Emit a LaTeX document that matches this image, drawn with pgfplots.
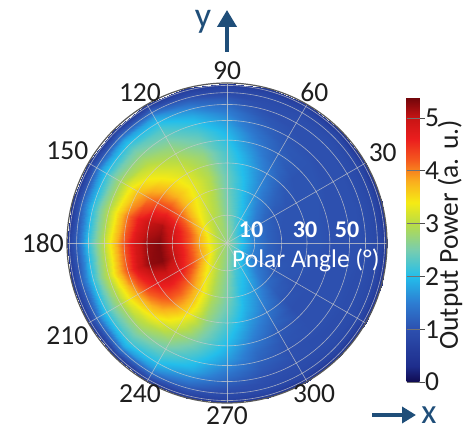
\documentclass[border=0pt]{standalone}
\usepackage{pgfplots}
\pgfplotsset{compat=1.18}
\usepackage{pgfplotstable}
\usepackage{fontspec}
\setmainfont{Carlito}
\usetikzlibrary{arrows.meta}
\definecolor{arrowblue}{RGB}{31,78,121}
\definecolor{txt}{RGB}{30,30,30}
\definecolor{gridc}{RGB}{205,205,205}

% p = azimuth (deg), t = polar angle (deg), v = output power (a.u.)
\pgfplotstableread{
p t v
0 0 2.7
0 5 2.05
0 10 1.5
0 15 1.2
0 20 1.05
0 25 1.05
0 30 1.05
0 35 1.05
0 40 1.0
0 45 1.0
0 50 1.0
0 55 1.0
0 60 0.95
0 65 0.9
0 70 0.85
0 75 0.75
0 80 0.6
0 90 0.45
15 0 2.7
15 5 2.05
15 10 1.5
15 15 1.2
15 20 1.05
15 25 1.05
15 30 1.05
15 35 1.05
15 40 1.0
15 45 1.0
15 50 1.0
15 55 1.0
15 60 0.95
15 65 0.9
15 70 0.85
15 75 0.75
15 80 0.6
15 90 0.45
30 0 2.7
30 5 2.05
30 10 1.55
30 15 1.25
30 20 1.1
30 25 1.05
30 30 1.05
30 35 1.05
30 40 1.05
30 45 1.0
30 50 1.0
30 55 1.0
30 60 0.95
30 65 0.9
30 70 0.85
30 75 0.75
30 80 0.6
30 90 0.45
45 0 2.7
45 5 2.15
45 10 1.75
45 15 1.5
45 20 1.3
45 25 1.2
45 30 1.1
45 35 1.05
45 40 1.05
45 45 1.05
45 50 1.0
45 55 1.0
45 60 1.0
45 65 0.95
45 70 0.9
45 75 0.8
45 80 0.65
45 90 0.45
60 0 2.7
60 5 2.3
60 10 2.0
60 15 1.8
60 20 1.65
60 25 1.55
60 30 1.45
60 35 1.3
60 40 1.2
60 45 1.1
60 50 1.05
60 55 1.0
60 60 1.0
60 65 0.95
60 70 0.9
60 75 0.8
60 80 0.7
60 90 0.5
75 0 2.7
75 5 2.5
75 10 2.3
75 15 2.15
75 20 2.05
75 25 1.95
75 30 1.85
75 35 1.7
75 40 1.55
75 45 1.4
75 50 1.25
75 55 1.1
75 60 1.0
75 65 0.95
75 70 0.9
75 75 0.8
75 80 0.7
75 90 0.5
90 0 2.7
90 5 2.65
90 10 2.55
90 15 2.5
90 20 2.45
90 25 2.4
90 30 2.3
90 35 2.2
90 40 2.05
90 45 1.9
90 50 1.7
90 55 1.5
90 60 1.3
90 65 1.1
90 70 0.9
90 75 0.8
90 80 0.7
90 90 0.5
105 0 2.7
105 5 2.8
105 10 2.85
105 15 2.9
105 20 2.95
105 25 2.95
105 30 2.85
105 35 2.7
105 40 2.5
105 45 2.3
105 50 2.1
105 55 1.85
105 60 1.6
105 65 1.3
105 70 1.05
105 75 0.85
105 80 0.7
105 90 0.5
120 0 2.7
120 5 2.85
120 10 3.0
120 15 3.15
120 20 3.25
120 25 3.3
120 30 3.2
120 35 3.05
120 40 2.85
120 45 2.65
120 50 2.45
120 55 2.25
120 60 2.05
120 65 1.75
120 70 1.4
120 75 1.05
120 80 0.8
120 90 0.55
135 0 2.7
135 5 2.95
135 10 3.2
135 15 3.45
135 20 3.65
135 25 3.7
135 30 3.6
135 35 3.4
135 40 3.2
135 45 2.95
135 50 2.7
135 55 2.45
135 60 2.15
135 65 1.8
135 70 1.4
135 75 1.05
135 80 0.8
135 90 0.55
150 0 2.7
150 5 3.05
150 10 3.5
150 15 3.9
150 20 4.2
150 25 4.35
150 30 4.25
150 35 4.0
150 40 3.7
150 45 3.3
150 50 2.9
150 55 2.5
150 60 2.15
150 65 1.75
150 70 1.35
150 75 1.0
150 80 0.8
150 90 0.55
165 0 2.7
165 5 3.15
165 10 3.75
165 15 4.3
165 20 4.8
165 25 5.1
165 30 5.0
165 35 4.6
165 40 4.1
165 45 3.55
165 50 3.0
165 55 2.55
165 60 2.1
165 65 1.65
165 70 1.25
165 75 0.95
165 80 0.75
165 90 0.5
180 0 2.7
180 5 3.2
180 10 3.8
180 15 4.4
180 20 4.95
180 25 5.3
180 30 5.2
180 35 4.85
180 40 4.25
180 45 3.65
180 50 3.05
180 55 2.6
180 60 2.1
180 65 1.6
180 70 1.2
180 75 0.95
180 80 0.75
180 90 0.5
195 0 2.7
195 5 3.2
195 10 3.85
195 15 4.45
195 20 5.0
195 25 5.3
195 30 5.25
195 35 4.9
195 40 4.3
195 45 3.7
195 50 3.1
195 55 2.6
195 60 2.1
195 65 1.6
195 70 1.2
195 75 0.95
195 80 0.75
195 90 0.5
210 0 2.7
210 5 3.15
210 10 3.75
210 15 4.3
210 20 4.7
210 25 4.85
210 30 4.7
210 35 4.35
210 40 3.85
210 45 3.35
210 50 2.9
210 55 2.5
210 60 2.15
210 65 1.7
210 70 1.3
210 75 1.0
210 80 0.8
210 90 0.55
225 0 2.7
225 5 3.0
225 10 3.45
225 15 3.85
225 20 4.15
225 25 4.25
225 30 4.15
225 35 3.85
225 40 3.45
225 45 3.05
225 50 2.75
225 55 2.45
225 60 2.2
225 65 1.85
225 70 1.45
225 75 1.1
225 80 0.8
225 90 0.55
240 0 2.7
240 5 2.9
240 10 3.15
240 15 3.35
240 20 3.55
240 25 3.6
240 30 3.5
240 35 3.25
240 40 2.95
240 45 2.7
240 50 2.45
240 55 2.2
240 60 2.0
240 65 1.7
240 70 1.4
240 75 1.05
240 80 0.8
240 90 0.55
255 0 2.7
255 5 2.8
255 10 2.85
255 15 2.9
255 20 2.9
255 25 2.85
255 30 2.75
255 35 2.6
255 40 2.45
255 45 2.25
255 50 2.05
255 55 1.85
255 60 1.6
255 65 1.35
255 70 1.1
255 75 0.9
255 80 0.7
255 90 0.5
270 0 2.7
270 5 2.65
270 10 2.6
270 15 2.55
270 20 2.5
270 25 2.4
270 30 2.25
270 35 2.1
270 40 1.95
270 45 1.8
270 50 1.6
270 55 1.4
270 60 1.2
270 65 1.05
270 70 0.9
270 75 0.8
270 80 0.7
270 90 0.5
285 0 2.7
285 5 2.45
285 10 2.25
285 15 2.1
285 20 2.0
285 25 1.9
285 30 1.75
285 35 1.6
285 40 1.45
285 45 1.3
285 50 1.2
285 55 1.1
285 60 1.0
285 65 0.95
285 70 0.9
285 75 0.8
285 80 0.65
285 90 0.45
300 0 2.7
300 5 2.3
300 10 2.0
300 15 1.85
300 20 1.7
300 25 1.55
300 30 1.4
300 35 1.25
300 40 1.1
300 45 1.05
300 50 1.0
300 55 1.0
300 60 0.95
300 65 0.9
300 70 0.85
300 75 0.75
300 80 0.6
300 90 0.45
315 0 2.7
315 5 2.15
315 10 1.75
315 15 1.5
315 20 1.3
315 25 1.15
315 30 1.05
315 35 1.0
315 40 1.0
315 45 1.0
315 50 1.0
315 55 0.95
315 60 0.95
315 65 0.9
315 70 0.85
315 75 0.75
315 80 0.6
315 90 0.45
330 0 2.7
330 5 2.05
330 10 1.55
330 15 1.25
330 20 1.1
330 25 1.05
330 30 1.0
330 35 1.0
330 40 1.0
330 45 1.0
330 50 1.0
330 55 0.95
330 60 0.95
330 65 0.9
330 70 0.85
330 75 0.75
330 80 0.6
330 90 0.45
345 0 2.7
345 5 2.05
345 10 1.5
345 15 1.2
345 20 1.05
345 25 1.05
345 30 1.05
345 35 1.0
345 40 1.0
345 45 1.0
345 50 1.0
345 55 0.95
345 60 0.95
345 65 0.9
345 70 0.85
345 75 0.75
345 80 0.6
345 90 0.45
360 0 2.7
360 5 2.05
360 10 1.5
360 15 1.2
360 20 1.05
360 25 1.05
360 30 1.05
360 35 1.05
360 40 1.0
360 45 1.0
360 50 1.0
360 55 1.0
360 60 0.95
360 65 0.9
360 70 0.85
360 75 0.75
360 80 0.6
360 90 0.45
}\powertable

\newcommand{\lbl}{\fontsize{27.5bp}{31bp}\selectfont}

\begin{document}
\begin{tikzpicture}
\begin{axis}[
  view={0}{90},
  scale only axis, width=320bp, height=320bp,
  xmin=-1, xmax=1, ymin=-1, ymax=1,
  enlargelimits=false,
  axis lines=none,
  colormap={powmap}{
    rgb255(0pt)=(15,10,80);
    rgb255(3pt)=(30,45,140);
    rgb255(10pt)=(45,80,175);
    rgb255(15pt)=(45,125,210);
    rgb255(20pt)=(35,190,235);
    rgb255(25pt)=(120,205,175);
    rgb255(30pt)=(185,220,70);
    rgb255(34pt)=(245,235,20);
    rgb255(38pt)=(250,175,30);
    rgb255(42pt)=(245,90,30);
    rgb255(46pt)=(235,30,30);
    rgb255(50pt)=(200,20,20);
    rgb255(54pt)=(110,5,10)},
  point meta min=0, point meta max=5.4,
  colorbar,
  colorbar style={
    at={(parent axis.east)}, anchor=west, xshift=11bp, yshift=3.5bp,
    scale only axis, width=13bp, height=285bp,
    ytick={0,1,2,3,4,5}, yticklabels={0,1,2,3,4,5},
    ytick pos=right, tick align=outside, major tick length=5bp,
    every tick/.style={black!70, line width=0.9bp},
    ymajorgrids, major grid style={black!55, line width=0.9bp},
    axis on top,
    axis line style={draw=none},
    /pgf/number format/assume math mode=true,
    yticklabel style={font=\lbl, text=txt, inner sep=0.5bp},
  },
]
\addplot3[surf, shader=interp, mesh/rows=25, mesh/cols=18]
  table[x expr={sin(\thisrow{t})*cos(\thisrow{p})},
        y expr={sin(\thisrow{t})*sin(\thisrow{p})},
        z=v] {\powertable};
\coordinate (O) at (axis cs:0,0,0);
\end{axis}

% polar grid
\foreach \r in {27.78,54.72,80,102.85,122.56,138.56,150.35,157.57}
  \draw[gridc, opacity=0.75, line width=0.6bp] (O) circle[radius=\r bp];
\foreach \a in {0,30,...,330}
  \draw[gridc, opacity=0.75, line width=0.6bp] (O) -- ++(\a:160bp);
\draw[black!65, line width=1.2bp] (O) circle[radius=160bp];

% azimuth labels
\foreach \a in {30,60,...,300} {
  \pgfmathtruncatemacro{\b}{\a+180}
  \node[anchor=\b, inner sep=3bp, text=txt, font=\lbl] at ([shift={(\a:160bp)}]O) {\a};
}

% radial labels
\node[anchor=base, text=white, font=\fontsize{24bp}{28bp}\selectfont\bfseries, inner sep=0pt] at ([shift={(24bp,5bp)}]O) {10};
\node[anchor=base, text=white, font=\fontsize{24bp}{28bp}\selectfont\bfseries, inner sep=0pt] at ([shift={(78bp,5bp)}]O) {30};
\node[anchor=base, text=white, font=\fontsize{24bp}{28bp}\selectfont\bfseries, inner sep=0pt] at ([shift={(120bp,5bp)}]O) {50};
\node[anchor=base west, text=white, font=\fontsize{25.5bp}{28bp}\selectfont, inner sep=0pt] at ([shift={(5bp,-25bp)}]O) {Polar Angle (°)};

% colorbar label
\node[rotate=90, text=txt, font=\lbl, inner sep=0pt] at ([shift={(223bp,8bp)}]O) {Output Power (a. u.)};

% axis direction arrows
\draw[arrowblue, line width=4bp, -{Triangle[width=19bp,length=17bp]}] ([shift={(0bp,191bp)}]O) -- ([shift={(0bp,233bp)}]O);
\node[anchor=base, text=arrowblue, font=\fontsize{36bp}{40bp}\selectfont, inner sep=0pt] at ([shift={(-24bp,215bp)}]O) {y};
\draw[arrowblue, line width=4bp, -{Triangle[width=16bp,length=14bp]}] ([shift={(145bp,-172bp)}]O) -- ([shift={(189bp,-172bp)}]O);
\node[anchor=base, text=arrowblue, font=\fontsize{35bp}{37bp}\selectfont, inner sep=0pt] at ([shift={(202bp,-180bp)}]O) {x};

\pgfresetboundingbox
\path[use as bounding box] ([shift={(-227bp,243bp)}]O) rectangle ([shift={(246bp,-189bp)}]O);
\end{tikzpicture}
\end{document}
